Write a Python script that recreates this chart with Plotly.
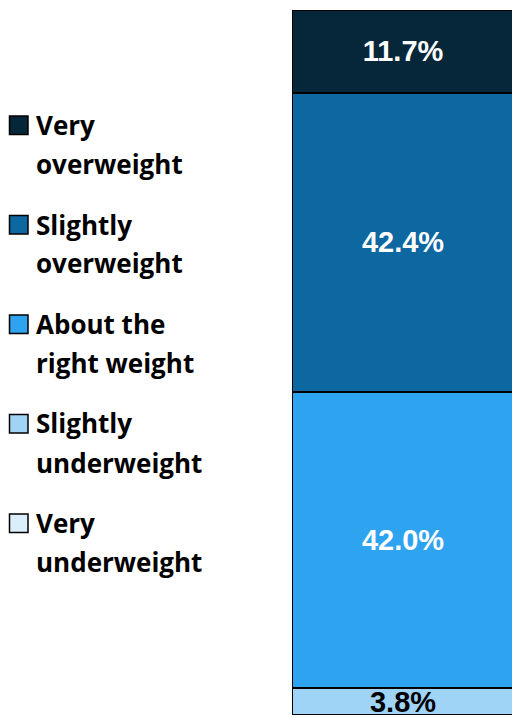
import plotly.graph_objects as go

W, H = 512, 717

# Data (stack order bottom -> top)
categories = ["Very underweight", "Slightly underweight", "About the right weight",
              "Slightly overweight", "Very overweight"]
values = [0.0, 3.8, 42.0, 42.4, 11.7]
colors = ["#dbeefb", "#9fd4f6", "#2ea3f0", "#0d67a0", "#062739"]
text_colors = ["#000000", "#000000", "#ffffff", "#ffffff", "#ffffff"]
legend_lines = [["Very", "underweight"], ["Slightly", "underweight"],
                ["About the", "right weight"], ["Slightly", "overweight"],
                ["Very", "overweight"]]

fig = go.Figure()
for cat, v, c, tc in zip(categories, values, colors, text_colors):
    fig.add_trace(go.Bar(
        x=[0], y=[v], name=cat, width=1,
        marker=dict(color=c, line=dict(color="#000000", width=2)),
        text=[f"{v:.1f}%" if v > 0 else ""],
        textposition="inside", insidetextanchor="middle",
        constraintext="none", textangle=0,
        textfont=dict(family="Arial, Liberation Sans", size=29, color=tc, weight="bold"),
        cliponaxis=False, showlegend=False,
    ))

# Legend (top to bottom: reverse of stack order)
shapes, annotations = [], []
first_y = 125
step = 99.5
gap = 39
for i, idx in enumerate(reversed(range(len(categories)))):
    y1 = first_y + step * i
    shapes.append(dict(type="rect", xref="paper", yref="paper",
                       x0=9.5 / W, x1=28 / W, y0=1 - (y1 - 9) / H, y1=1 - (y1 + 9.5) / H,
                       fillcolor=colors[idx], line=dict(color="#000000", width=1.5)))
    for j, line in enumerate(legend_lines[idx]):
        annotations.append(dict(xref="paper", yref="paper", x=34 / W,
                                y=1 - (y1 + gap * j) / H, xanchor="left", yanchor="middle",
                                text=line, showarrow=False,
                                font=dict(family="Open Sans", size=26, color="#000000", weight="bold")))

fig.update_layout(
    width=W, height=H, barmode="stack",
    margin=dict(l=0, r=0, t=0, b=0),
    paper_bgcolor="white", plot_bgcolor="white",
    xaxis=dict(domain=[292 / W, 1], range=[-0.5, 0.49], visible=False, fixedrange=True),
    yaxis=dict(domain=[2 / H, 707 / H], range=[0, sum(values)], visible=False, fixedrange=True),
    shapes=shapes, annotations=annotations, showlegend=False,
)
fig.write_html("out.html", config={"displayModeBar": False},
               post_script="document.body.style.margin='0';document.body.style.overflow='hidden';")
